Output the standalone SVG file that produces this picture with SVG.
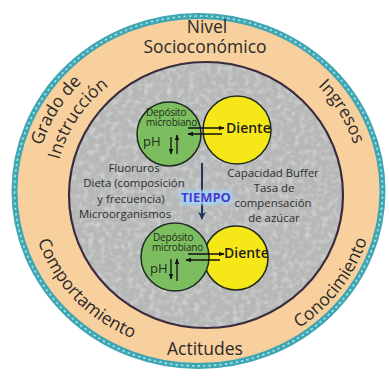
<svg xmlns="http://www.w3.org/2000/svg" width="389" height="376" viewBox="0 0 389 376">
<style>
.lbl{font-family:"Open Sans","Noto Sans","Liberation Sans",sans-serif;font-size:17.5px;fill:#2a2a2a}
.mid{font-family:"Open Sans","Noto Sans","Liberation Sans",sans-serif;font-size:11.4px;fill:#2e2e2e;text-anchor:middle}
.dep{font-family:"Open Sans","Noto Sans","Liberation Sans",sans-serif;font-size:10px;fill:#1c2e1c;letter-spacing:-0.2px}
.ph{font-family:"Open Sans","Noto Sans","Liberation Sans",sans-serif;font-size:13px;fill:#1c2e1c}
.die{font-family:"Open Sans","Noto Sans","Liberation Sans",sans-serif;font-size:14px;fill:#1e1e1e;font-weight:600}
.green{fill:#7cbd5f;stroke:#1e2a1e;stroke-width:1.5}
.yellow{fill:#f6e719;stroke:#1e2a1e;stroke-width:1.5}
.arr{stroke:#111;stroke-width:1.3;fill:none}
</style>
<defs>
<marker id="ah" viewBox="0 0 10 10" refX="9" refY="5" markerWidth="4.5" markerHeight="4.5" orient="auto-start-reverse" markerUnits="strokeWidth"><path d="M0,1 L10,5 L0,9 z" fill="#111"/></marker>
<marker id="ahn" viewBox="0 0 10 10" refX="9" refY="5" markerWidth="4" markerHeight="4" orient="auto" markerUnits="strokeWidth"><path d="M0,0 L10,5 L0,10 L3,5 z" fill="#1d3557"/></marker>
<filter id="noise" x="0" y="0" width="100%" height="100%">
<feTurbulence type="fractalNoise" baseFrequency="0.18" numOctaves="2" seed="4"/>
<feColorMatrix type="matrix" values="0 0 0 0 1  0 0 0 0 1  0 0 0 0 1  0 0 0 1.6 -0.7"/>
<feComposite operator="in" in2="SourceGraphic"/>
</filter>
<filter id="glow" x="-20%" y="-50%" width="140%" height="200%"><feGaussianBlur stdDeviation="1.6"/></filter>
<path id="pGrado" d="M44.6,243.9 A164,155 0 0 1 170.0,38.3"/>
<path id="pInstr" d="M62.9,233.8 A143,135 0 0 1 177.4,57.5"/>
<path id="pIngr" d="M228.2,39.6 A163,154 0 0 1 351.2,244.9"/>
<path id="pComp" d="M31.1,168.7 A169,160 0 0 0 204.4,350.9"/>
<path id="pCono" d="M212.6,357.5 A176,167 0 0 0 368.8,148.9"/>
</defs>
<rect width="389" height="376" fill="#ffffff"/>
<g id="outer-ring">
<ellipse cx="198.5" cy="191" rx="184" ry="175" fill="#f8d09d" stroke="#3ea5b3" stroke-width="6"/>
<ellipse cx="198.5" cy="191" rx="184" ry="175" fill="none" stroke="#9ddde2" stroke-width="1.8" stroke-dasharray="2.5 3"/>
<text class="lbl" x="207" y="33" text-anchor="middle">Nivel</text>
<text class="lbl" x="205" y="53" text-anchor="middle">Socioconómico</text>
<text class="lbl" x="205" y="355" text-anchor="middle">Actitudes</text>
<text class="lbl"><textPath href="#pGrado" startOffset="50%" text-anchor="middle">Grado de</textPath></text>
<text class="lbl"><textPath href="#pInstr" startOffset="50%" text-anchor="middle">Instrucción</textPath></text>
<text class="lbl"><textPath href="#pIngr" startOffset="50%" text-anchor="middle">Ingresos</textPath></text>
<text class="lbl"><textPath href="#pComp" startOffset="50%" text-anchor="middle">Comportamiento</textPath></text>
<text class="lbl"><textPath href="#pCono" startOffset="50%" text-anchor="middle">Conocimiento</textPath></text>
</g>
<g id="inner-area">
<ellipse cx="206" cy="195" rx="137" ry="133" fill="#b6b8b8"/>
<ellipse cx="206" cy="195" rx="137" ry="133" fill="#ffffff" filter="url(#noise)" opacity="0.55"/>
<ellipse cx="206" cy="195" rx="137" ry="133" fill="none" stroke="#3a2b3e" stroke-width="2.2"/>
<text class="mid" x="134" y="172">Fluoruros</text>
<text class="mid" x="134" y="187">Dieta (composición</text>
<text class="mid" x="131" y="203">y frecuencia)</text>
<text class="mid" x="125" y="218">Microorganismos</text>
<text class="mid" x="273" y="177">Capacidad Buffer</text>
<text class="mid" x="274" y="192">Tasa de</text>
<text class="mid" x="273" y="207">compensación</text>
<text class="mid" x="274" y="222">de azúcar</text>
</g>
<g id="top-diente">
<circle class="yellow" cx="237" cy="130" r="34"/>
<text class="die" x="226" y="133">Diente</text>
</g>
<g id="top-deposito">
<circle class="green" cx="169" cy="134" r="32"/>
<text class="dep" x="146" y="115.5">Depósito</text>
<text class="dep" x="146" y="125.5">microbiano</text>
<text class="ph" x="143" y="146">pH</text>
</g>
<g id="bottom-diente">
<circle class="yellow" cx="236" cy="258" r="32"/>
<text class="die" x="224" y="258">Diente</text>
</g>
<g id="bottom-deposito">
<circle class="green" cx="175" cy="257" r="34"/>
<text class="dep" x="153" y="241">Depósito</text>
<text class="dep" x="152" y="251">microbiano</text>
<text class="ph" x="150" y="273">pH</text>
</g>
<g id="connectors">
<line class="arr" x1="188" y1="128" x2="224" y2="128" marker-end="url(#ah)"/>
<line class="arr" x1="222" y1="134" x2="188" y2="134" marker-end="url(#ah)"/>
<line class="arr" x1="171" y1="137" x2="171" y2="154" marker-end="url(#ah)"/>
<line class="arr" x1="177" y1="154" x2="177" y2="135" marker-end="url(#ah)"/>
<line class="arr" x1="188" y1="254" x2="224" y2="254" marker-end="url(#ah)"/>
<line class="arr" x1="220" y1="260" x2="186" y2="260" marker-end="url(#ah)"/>
<line class="arr" x1="171" y1="259" x2="171" y2="279" marker-end="url(#ah)"/>
<line class="arr" x1="177" y1="281" x2="177" y2="259" marker-end="url(#ah)"/>
<line x1="202" y1="163" x2="202" y2="219" stroke="#1d3557" stroke-width="2" marker-end="url(#ahn)"/>
</g>
<g id="tiempo">
<text x="206" y="202" text-anchor="middle" font-family="Open Sans, Noto Sans, sans-serif" font-weight="700" font-size="13" fill="#9fd6f4" stroke="#9fd6f4" stroke-width="5" stroke-linejoin="round" filter="url(#glow)">TIEMPO</text>
<text x="206" y="202" text-anchor="middle" font-family="Open Sans, Noto Sans, sans-serif" font-weight="700" font-size="13" fill="#5236c8">TIEMPO</text>
</g>
</svg>
